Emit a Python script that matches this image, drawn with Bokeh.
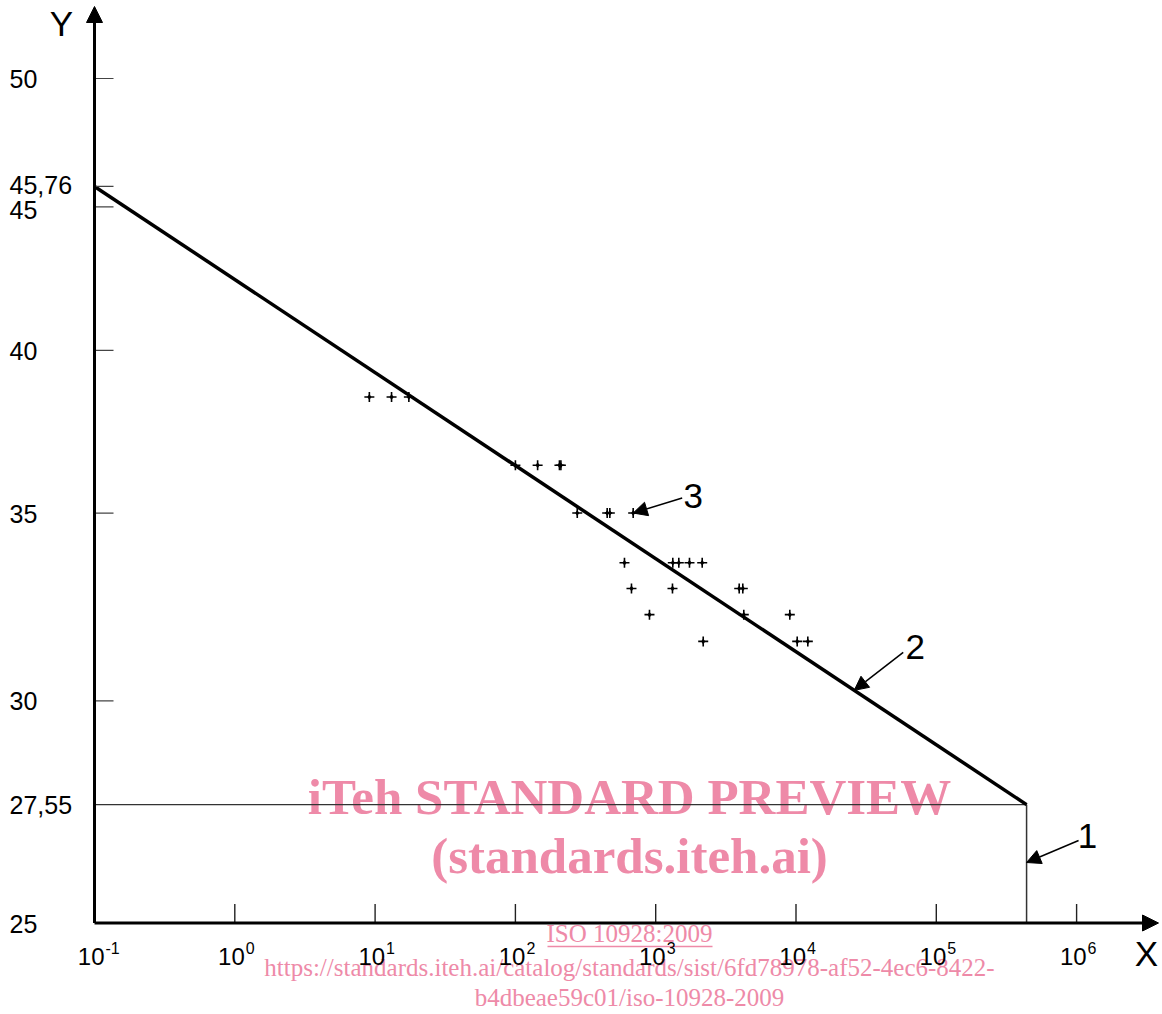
import math
from bokeh.plotting import figure
from bokeh.models import Range1d, Arrow, NormalHead
from bokeh.core.properties import value
from bokeh.embed import file_html
from bokeh.resources import INLINE

# ---------------- data ----------------
POINT_X = [9.1, 13.1, 17.4,
           100, 144, 206, 211,
           276, 451, 471, 691,
           599, 1324, 1461, 1741, 2145,
           672, 1317, 3937, 4176,
           903, 4245, 9032,
           2181, 10200, 12140]
POINT_Y = [38.5] * 3 + [36.4] * 4 + [35.0] * 4 + [33.6] * 5 + [32.9] * 4 + [32.2] * 3 + [31.5] * 3

LINE_X = [0.1, 4.4e5]          # regression line (2)
LINE_Y = [45.76, 27.55]
X_LIMIT = 4.4e5                # limit marker (1)
Y_LIMIT = 27.55

X_TICKS = [0.1, 1, 10, 100, 1e3, 1e4, 1e5, 1e6]
X_EXPONENTS = ["-1", "0", "1", "2", "3", "4", "5", "6"]
Y_TICKS = [25, 27.55, 30, 35, 40, 45, 45.76, 50]
Y_LABELS = ["25", "27,55", "30", "35", "40", "45", "45,76", "50"]

WATERMARK_BIG = ["iTeh STANDARD PREVIEW", "(standards.iteh.ai)"]
WATERMARK_SMALL = ["ISO 10928:2009",
                   "https://standards.iteh.ai/catalog/standards/sist/6fd78978-af52-4ec6-8422-",
                   "b4dbeae59c01/iso-10928-2009"]

# ---------------- layout helpers (pixel offsets on log scales) ----------------
XK = 140.3     # pixels per decade, x
YK = 2805.4    # pixels per decade, y
X0, Y0 = 0.1, 25.0   # origin of the axes
OX, OY = 94, 922.5   # pixel position of the origin in the canvas


def sx(v, dpx):
    """shift x value v by dpx pixels to the right"""
    return v * 10 ** (dpx / XK)


def sy(v, dpx):
    """shift y value v by dpx pixels downward"""
    return v * 10 ** (-dpx / YK)


def line_y_at(x):
    lx0, lx1 = math.log10(LINE_X[0]), math.log10(LINE_X[1])
    ly0, ly1 = math.log10(LINE_Y[0]), math.log10(LINE_Y[1])
    f = (math.log10(x) - lx0) / (lx1 - lx0)
    return 10 ** (ly0 + f * (ly1 - ly0))


W, H = 1160, 1012
p = figure(width=W, height=H, x_axis_type="log", y_axis_type="log",
           x_range=Range1d(sx(X0, -OX), sx(X0, W - OX)),
           y_range=Range1d(sy(Y0, H - OY), sy(Y0, -OY)),
           x_axis_location=None, y_axis_location=None,
           toolbar_location=None, output_backend="svg", min_border=0)
p.outline_line_color = None
p.background_fill_color = "white"
p.border_fill_color = "white"
p.grid.grid_line_color = None

SANS = value("Liberation Sans")
SERIF = value("Liberation Serif")
PINK = "#EE8AA8"

# ---------------- watermark (underneath) ----------------
wm_x = sx(X0, 535)
p.text(x=[wm_x, wm_x], y=[sy(Y0, 796.7 - OY), sy(Y0, 855.7 - OY)], text=WATERMARK_BIG,
       text_font=SERIF, text_font_style="bold", text_font_size="51px",
       text_color=PINK, text_align="center", text_baseline="middle")
p.text(x=[wm_x] * 3, y=[sy(Y0, 933.2 - OY), sy(Y0, 966.5 - OY), sy(Y0, 996.5 - OY)],
       text=WATERMARK_SMALL, text_font=SERIF, text_font_size="25px",
       text_color=PINK, text_align="center", text_baseline="middle")
p.line(x=[sx(X0, 453), sx(X0, 618)], y=[sy(Y0, 946 - OY)] * 2, line_color=PINK, line_width=1.3)

# ---------------- reference lines ----------------
p.line(x=[X0, X_LIMIT], y=[Y_LIMIT, Y_LIMIT], line_color="#333333", line_width=1.2)
p.line(x=[X_LIMIT, X_LIMIT], y=[Y0, Y_LIMIT], line_color="#333333", line_width=1.5)
p.line(x=LINE_X, y=LINE_Y, line_color="black", line_width=3.5)

# ---------------- data points (four-pointed "+" marks) ----------------
p.scatter(x=POINT_X, y=POINT_Y, marker="cross", size=10, line_color="black", line_width=1.6)
p.scatter(x=POINT_X, y=POINT_Y, marker="diamond", size=6, line_color=None, fill_color="black")

# ---------------- axes ----------------
yt = [t for t in Y_TICKS if t not in (Y0, Y_LIMIT)]
p.segment(x0=[X0] * len(yt), y0=yt, x1=[sx(X0, 19)] * len(yt), y1=yt,
          line_color="#444444", line_width=1.2)
xt = [t for t in X_TICKS if t != X0]
p.segment(x0=xt, y0=[Y0] * len(xt), x1=xt, y1=[sy(Y0, -19)] * len(xt),
          line_color="#222222", line_width=1.4)

p.add_layout(Arrow(end=NormalHead(size=16, fill_color="black", line_color="black"),
                   x_start=X0, y_start=Y0, x_end=X0, y_end=sy(Y0, 6 - OY),
                   line_color="black", line_width=3))
p.add_layout(Arrow(end=NormalHead(size=16, fill_color="black", line_color="black"),
                   x_start=X0, y_start=Y0, x_end=sx(X0, 1158 - OX), y_end=Y0,
                   line_color="black", line_width=3))

# y tick labels (left aligned at the page edge)
y_nudge = {45: 3.0, 45.76: -1.0}
p.text(x=[sx(X0, 9 - OX)] * len(Y_TICKS),
       y=[sy(t, y_nudge.get(t, 0.5)) for t in Y_TICKS], text=Y_LABELS,
       text_font=SANS, text_font_size="25px", text_color="black",
       text_align="left", text_baseline="middle")

# x tick labels: "10" + superscript exponent
p.text(x=[sx(t, 10) for t in X_TICKS], y=[sy(Y0, 956 - OY)] * len(X_TICKS), text=["10"] * len(X_TICKS),
       text_font=SANS, text_font_size="24px", text_color="black",
       text_align="right", text_baseline="middle")
p.text(x=[sx(t, 11) for t in X_TICKS], y=[sy(Y0, 947.5 - OY)] * len(X_TICKS), text=X_EXPONENTS,
       text_font=SANS, text_font_size="16px", text_color="black",
       text_align="left", text_baseline="middle")

# axis names
p.text(x=[sx(X0, 61 - OX), sx(X0, 1146 - OX)], y=[sy(Y0, 23 - OY), sy(Y0, 952.5 - OY)], text=["Y", "X"],
       text_font=SANS, text_font_size="35px", text_color="black",
       text_align="center", text_baseline="middle")

# ---------------- callouts ----------------
def callout(tx, ty, tail_dx, tail_dy, lab_dx, lab_dy, label):
    p.add_layout(Arrow(end=NormalHead(size=14, fill_color="black", line_color="black"),
                       x_start=sx(tx, tail_dx), y_start=sy(ty, tail_dy), x_end=tx, y_end=ty,
                       line_color="black", line_width=1.5))
    p.text(x=[sx(tx, lab_dx)], y=[sy(ty, lab_dy)], text=[label],
           text_font=SANS, text_font_size="35px", text_color="black",
           text_align="center", text_baseline="middle")

callout(691, 35.0, 49, -15, 60, -17, "3")
callout(2.6e4, line_y_at(2.6e4), 49, -38, 61, -43, "2")
callout(X_LIMIT, sy(Y0, 862 - OY), 52, -22, 61, -26.5, "1")

open("out.html", "w").write(file_html(p, INLINE))
